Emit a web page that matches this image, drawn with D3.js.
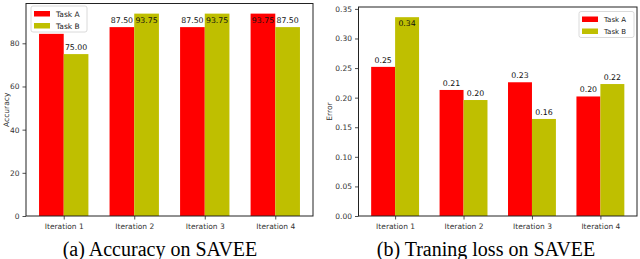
<!DOCTYPE html>
<html>
<head>
<meta charset="utf-8">
<script src="https://cdn.jsdelivr.net/npm/d3@7"></script>
<style>
    body { margin: 0; background: #fff; }
    svg { display: block; }
</style>
</head>
<body>
<div id="graph"></div>
<script>
"use strict";
(function() {
    const categories = ["Iteration 1", "Iteration 2", "Iteration 3", "Iteration 4"];
    const seriesNames = ["Task A", "Task B"];
    const accTaskA = [84.38, 87.50, 87.50, 93.75];
    const accTaskB = [75.00, 93.75, 93.75, 87.50];
    const lossTaskA = [0.252, 0.213, 0.226, 0.202];
    const lossTaskB = [0.336, 0.196, 0.164, 0.223];
    const accTicks = [0, 20, 40, 60, 80];
    const lossTicks = [0, 0.05, 0.10, 0.15, 0.20, 0.25, 0.30, 0.35];

    const colors = ["#ff0000", "#bfbf00"];
    const size = { width: 640, height: 259 };
    const barWidth = 0.35;
    const tickFont = "DejaVu Sans, sans-serif";

    let svg = null;

    window.addEventListener("load", init);

    function init() {
        svg = d3.select("#graph")
                .append("svg")
                    .attr("width", size.width)
                    .attr("height", size.height);

        drawChart({
            box: { left: 26, right: 313, top: 3.5, bottom: 216 },
            seriesA: accTaskA,
            seriesB: accTaskB,
            ticks: accTicks,
            tickFormat: d3.format("d"),
            ymax: 98.44,
            ylabel: "Accuracy",
            ylabelX: 9,
            legend: { x: 31, y: 6, w: 56, fontSize: 7.5 },
            caption: "(a) Accuracy on SAVEE",
            captionX: 160
        });

        drawChart({
            box: { left: 358.5, right: 637, top: 7, bottom: 216 },
            seriesA: lossTaskA,
            seriesB: lossTaskB,
            ticks: lossTicks,
            tickFormat: d3.format(".2f"),
            ymax: 0.3532,
            ylabel: "Error",
            ylabelX: 332,
            legend: { x: 579, y: 11.5, w: 55, fontSize: 7 },
            caption: "(b) Traning loss on SAVEE",
            captionX: 486
        });
    }

    function drawChart(cfg) {
        let box = cfg.box;
        let lg = cfg.legend;
        let g = svg.append("g");

        let xScale = d3.scaleLinear()
                        .domain([-0.535, categories.length - 1 + 0.535])
                        .range([box.left, box.right]);
        let yScale = d3.scaleLinear()
                        .domain([0, cfg.ymax])
                        .range([box.bottom, box.top]);

        /***
         * bars
         */
        let rows = [];
        categories.forEach((c, i) => {
            rows.push({ i: i, v: cfg.seriesA[i], s: 0 });
            rows.push({ i: i, v: cfg.seriesB[i], s: 1 });
        });

        g.selectAll("rect.bar")
            .data(rows)
            .enter()
            .append("rect")
                .attr("class", "bar")
                .attr("x", d => xScale(d.i + (d.s - 1) * barWidth))
                .attr("y", d => yScale(d.v))
                .attr("width", d => xScale(barWidth) - xScale(0))
                .attr("height", d => yScale(0) - yScale(d.v))
                .attr("fill", d => colors[d.s]);

        // value labels (the tall ones sit lower, inside the bar);
        // a label that would sit under the legend is hidden, as in the original
        let labelCap = cfg.ymax * 0.89;
        let fmt = d3.format(".2f");
        let labelX = d => xScale(d.i + (d.s - 0.5) * barWidth);
        let labelY = d => yScale(Math.min(d.v, labelCap)) - 4;
        let visible = rows.filter(d => {
            let x = labelX(d), y = labelY(d);
            return !(x > lg.x && x < lg.x + lg.w && y > lg.y && y < lg.y + 30);
        });
        g.selectAll("text.val")
            .data(visible)
            .enter()
            .append("text")
                .attr("class", "val")
                .attr("x", labelX)
                .attr("y", labelY)
                .attr("text-anchor", "middle")
                .attr("font-family", tickFont)
                .attr("font-size", 7.8)
                .attr("fill", "#111")
                .text(d => fmt(d.v));

        /***
         * axes
         */
        let xAxis = g.append("g")
            .attr("transform", "translate(0," + box.bottom + ")")
            .call(d3.axisBottom(xScale)
                    .tickValues(d3.range(categories.length))
                    .tickFormat(i => categories[i])
                    .tickSize(3.5)
                    .tickPadding(4));
        let yAxis = g.append("g")
            .attr("transform", "translate(" + box.left + ",0)")
            .call(d3.axisLeft(yScale)
                    .tickValues(cfg.ticks)
                    .tickFormat(cfg.tickFormat)
                    .tickSize(3.5)
                    .tickPadding(3));
        [xAxis, yAxis].forEach(ax => {
            ax.select(".domain").remove();
            ax.selectAll("line").attr("stroke", "#222").attr("stroke-width", 0.8);
            ax.selectAll("text")
                .attr("font-family", tickFont)
                .attr("font-size", 7.5)
                .attr("fill", "#333");
        });

        g.append("rect")
            .attr("x", box.left)
            .attr("y", box.top)
            .attr("width", box.right - box.left)
            .attr("height", box.bottom - box.top)
            .attr("fill", "none")
            .attr("stroke", "#222")
            .attr("stroke-width", 1);

        g.append("text")
            .attr("transform", "translate(" + cfg.ylabelX + "," + ((box.top + box.bottom) / 2) + ") rotate(-90)")
            .attr("text-anchor", "middle")
            .attr("font-family", tickFont)
            .attr("font-size", 7.5)
            .attr("fill", "#333")
            .text(cfg.ylabel);

        /*********
         *  legend
         */
        let leg = g.append("g").attr("transform", "translate(" + lg.x + "," + lg.y + ")");
        leg.append("rect")
            .attr("width", lg.w)
            .attr("height", 26)
            .attr("rx", 2)
            .attr("fill", "#fff")
            .attr("fill-opacity", 0.9)
            .attr("stroke", "#d0d0d0")
            .attr("stroke-width", 0.8);
        seriesNames.forEach((name, k) => {
            leg.append("rect")
                .attr("x", 3)
                .attr("y", 5 + k * 12)
                .attr("width", 16)
                .attr("height", 5.5)
                .attr("fill", colors[k]);
            leg.append("text")
                .attr("x", 25)
                .attr("y", 10.5 + k * 12)
                .attr("font-family", tickFont)
                .attr("font-size", lg.fontSize)
                .attr("fill", "#222")
                .text(name);
        });

        svg.append("text")
            .attr("x", cfg.captionX)
            .attr("y", 256)
            .attr("text-anchor", "middle")
            .attr("font-family", "Liberation Serif, Times New Roman, serif")
            .attr("font-size", 20)
            .attr("fill", "#000")
            .text(cfg.caption);
    }
})();
</script>
</body>
</html>
